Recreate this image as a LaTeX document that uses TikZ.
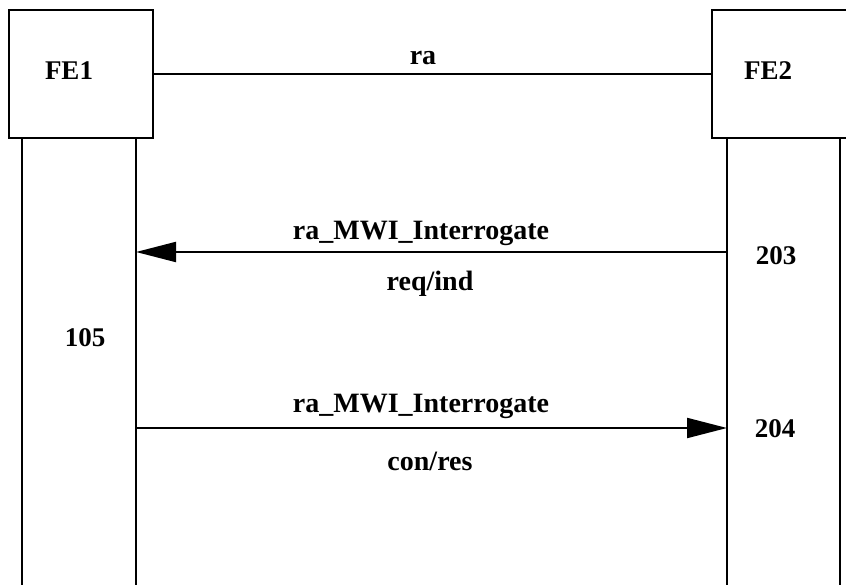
\documentclass[tikz,border=0pt]{standalone}
\usepackage{fontspec}
\setmainfont{Liberation Serif}
\usetikzlibrary{arrows.meta,positioning,calc}

\tikzset{
  febox/.style={draw, line width=2pt, minimum width=144pt, minimum height=128pt, inner sep=0pt},
  lane/.style={line width=2pt},
  msg/.style={line width=2pt, -{Triangle[length=40pt,width=20pt]}},
  lbl/.style={font=\fontsize{27}{30}\selectfont\bfseries, anchor=base, inner sep=0pt},
  msglbl/.style={lbl, font=\fontsize{28}{31}\selectfont\bfseries}
}

\begin{document}
\begin{tikzpicture}[x=1pt,y=-1pt]
    \useasboundingbox (0,0) rectangle (846,585);
    \coordinate (bot) at (0,585);

    % Functional entities
    \node[febox] (fe1) at (81,74) {};
    \node[febox] (fe2) at (784,74) {};
    \node[lbl] (fe1lbl) at (69,80) {FE1};
    \node[lbl] (fe2lbl) at (768,80) {FE2};

    % Relationship ra
    \draw[lane] (fe1.east) -- (fe2.east -| fe2.west);
    \node[msglbl] (ralbl) at (423,65) {ra};

    % Lanes
    \coordinate (l1) at ($(fe1.south west)+(14,0)$);
    \coordinate (r1) at ($(fe1.south east)+(-18,0)$);
    \coordinate (l2) at ($(fe2.south west)+(16,0)$);
    \coordinate (r2) at ($(fe2.south west)+(129,0)$);
    \draw[lane] (l1) -- (l1 |- bot);
    \draw[lane] (r1) -- (r1 |- bot);
    \draw[lane] (l2) -- (l2 |- bot);
    \draw[lane] (r2) -- (r2 |- bot);

    % req/ind
    \coordinate (m1) at (0,252);
    \draw[msg] (l2 |- m1) -- (r1 |- m1);
    \node[msglbl] (m1top) at (421,240) {ra\_MWI\_Interrogate};
    \node[msglbl] (m1bot) at (430,291) {req/ind};

    % con/res
    \coordinate (m2) at (0,428);
    \draw[msg] (r1 |- m2) -- (l2 |- m2);
    \node[msglbl] (m2top) at (421,412) {ra\_MWI\_Interrogate};
    \node[msglbl] (m2bot) at (430,470) {con/res};

    % Action numbers
    \node[lbl] (a105) at (85,346) {105};
    \node[lbl] (a203) at (776,265) {203};
    \node[lbl] (a204) at (775,437) {204};

\end{tikzpicture}
\end{document}
